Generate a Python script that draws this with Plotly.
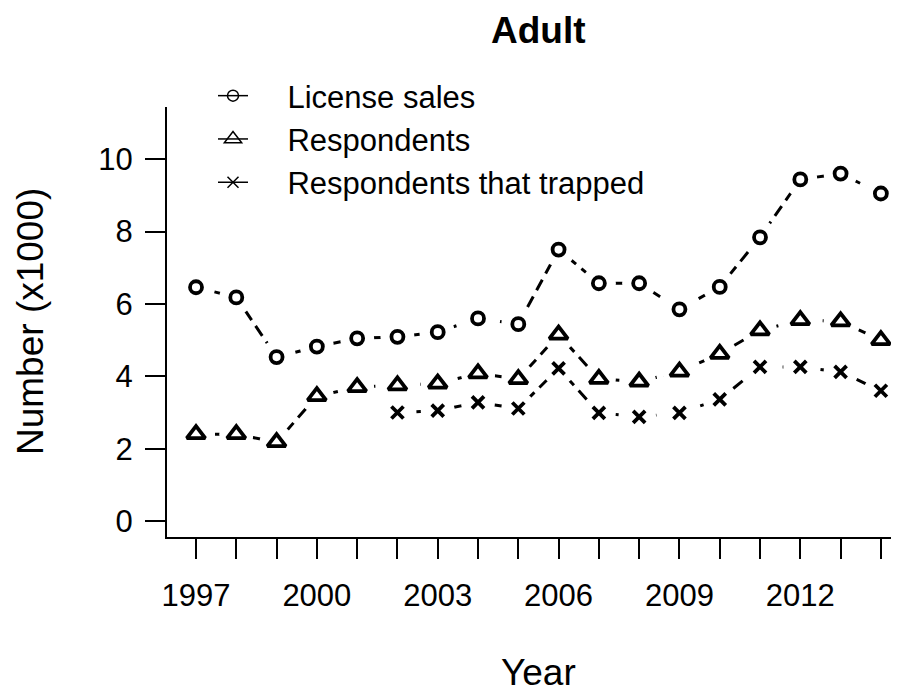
import plotly.graph_objects as go

years = list(range(1997, 2015))
license_sales = [6.46, 6.18, 4.53, 4.82, 5.05, 5.09, 5.22, 5.60, 5.44, 7.50, 6.57, 6.57, 5.85, 6.47, 7.84, 9.44, 9.60, 9.05]
respondents = [2.40, 2.40, 2.18, 3.45, 3.70, 3.75, 3.80, 4.08, 3.92, 5.15, 3.93, 3.85, 4.13, 4.62, 5.27, 5.55, 5.52, 5.00]
trapped = [None, None, None, None, None, 3.00, 3.05, 3.28, 3.11, 4.22, 2.99, 2.88, 2.99, 3.36, 4.26, 4.26, 4.12, 3.60]

series_names = ["License sales", "Respondents", "Respondents that trapped"]
series_values = [license_sales, respondents, trapped]
symbols = ["circle-open", "triangle-up-open", "x-thin-open"]
sizes = [12, 16, 12]
legend_sizes = [11, 15, 11]
tick_labels = {1997: "1997", 2000: "2000", 2003: "2003", 2006: "2006", 2009: "2009", 2012: "2012"}

FONT = "Liberation Sans, Arial, sans-serif"
NBSP = "\u00a0" * 4
W, H = 891, 688          # page body has an 8px margin
ML, MT, PH = 159, 99, 430
PW = W - ML

fig = go.Figure()

# dashed connecting lines
for vals in series_values:
    fig.add_trace(go.Scatter(x=years, y=vals, mode="lines", showlegend=False, hoverinfo="skip",
                             connectgaps=False,
                             line=dict(color="black", width=3, dash="12px,7px")))
# white halos (gaps around points like R type="b")
for vals in series_values:
    fig.add_trace(go.Scatter(x=years, y=vals, mode="markers", showlegend=False, hoverinfo="skip",
                             marker=dict(symbol="circle", size=34, color="white", line=dict(width=0))))
# point markers
for vals, sym, sz in zip(series_values, symbols, sizes):
    fig.add_trace(go.Scatter(x=years, y=vals, mode="markers", showlegend=False,
                             marker=dict(symbol=sym, size=sz, color="black",
                                         line=dict(color="black", width=3.8))))
# legend entries (solid line with symbol)
for name, sym, sz in zip(series_names, symbols, legend_sizes):
    fig.add_trace(go.Scatter(x=[None], y=[None], mode="lines+markers", name=NBSP + name,
                             line=dict(color="black", width=1.5),
                             marker=dict(symbol=sym, size=sz, color="black",
                                         line=dict(color="black", width=1.5))))

fig.update_layout(
    width=W, height=H,
    margin=dict(l=ML, r=0, t=MT, b=H - MT - PH, autoexpand=False),
    paper_bgcolor="white", plot_bgcolor="white",
    font=dict(family=FONT, size=31, color="black"),
    showlegend=True,
    legend=dict(xref="container", yref="container", x=205 / W, xanchor="left",
                y=1 - 61 / H, yanchor="top",
                bgcolor="rgba(0,0,0,0)", font=dict(size=31, family=FONT),
                tracegroupgap=0, itemwidth=30),
    xaxis=dict(range=[1996.28, 2014.45], tickvals=years,
               ticktext=[tick_labels.get(y, "") for y in years],
               showgrid=False, zeroline=False, showline=True, linecolor="black", linewidth=2,
               ticks="outside", ticklen=20, tickwidth=2, tickcolor="black",
               tickfont=dict(size=31, family=FONT), ticklabelstandoff=10),
    yaxis=dict(range=[-0.44, 11.44], tickvals=[0, 2, 4, 6, 8, 10],
               showgrid=False, zeroline=False, showline=True, linecolor="black", linewidth=2,
               ticks="outside", ticklen=20, tickwidth=2, tickcolor="black",
               tickfont=dict(size=31, family=FONT), ticklabelstandoff=6),
)

fig.add_annotation(text="<b>Adult</b>", x=(538 - 8 - ML) / PW, xref="paper", y=1 + 77 / PH, yref="paper",
                   yanchor="middle", showarrow=False, font=dict(size=37, family=FONT))
fig.add_annotation(text="Year", x=(538 - 8 - ML) / PW, xref="paper", y=-(672 - 537) / PH, yref="paper",
                   yanchor="middle", showarrow=False, font=dict(size=37, family=FONT))
fig.add_annotation(text="Number (x1000)", x=-(167 - 30) / PW, xref="paper", y=0.5, yref="paper",
                   xanchor="center", textangle=-90, showarrow=False, font=dict(size=37, family=FONT))

fig.write_html("out.html")
